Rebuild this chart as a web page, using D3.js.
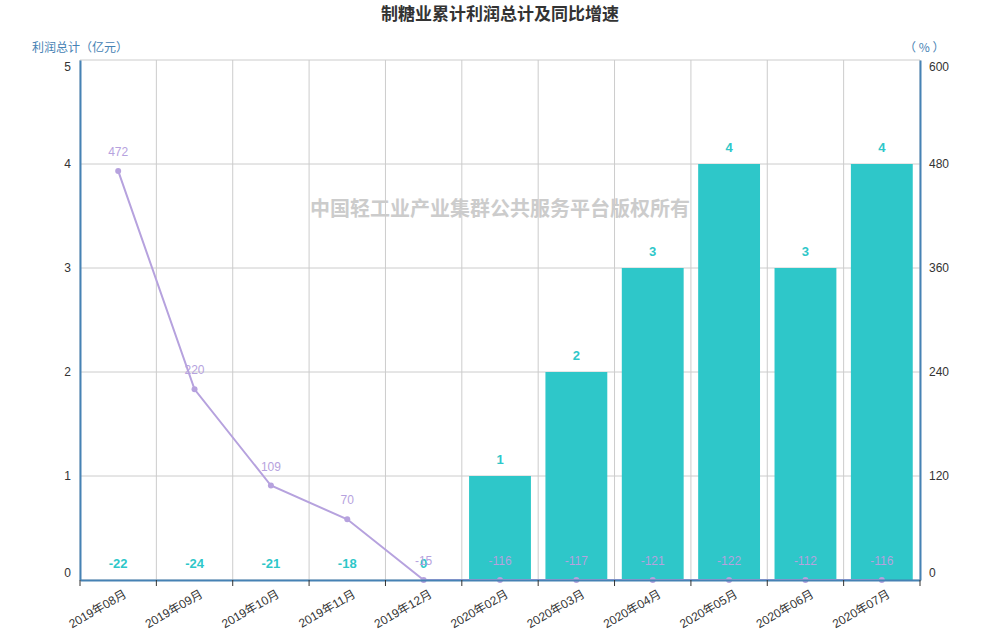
<!DOCTYPE html>
<html><head><meta charset="utf-8">
<script src="https://cdn.jsdelivr.net/npm/d3@7/dist/d3.min.js"></script>
<style>body{margin:0;background:#fff;font-family:"Noto Sans CJK SC","Microsoft YaHei",sans-serif;}</style>
</head><body><svg id="c" width="1000" height="640"></svg>
<script>
const categories = ["2019年08月","2019年09月","2019年10月","2019年11月","2019年12月","2020年02月","2020年03月","2020年04月","2020年05月","2020年06月","2020年07月"];
const profitValues = [-22,-24,-21,-18,0,1,2,3,4,3,4];
const growthValues = [472,220,109,70,-15,-116,-117,-121,-122,-112,-116];
const leftTicks = [0,1,2,3,4,5];
const rightTicks = [0,120,240,360,480,600];

const svg = d3.select("#c");
const L=80,R=920,T=60,B=580;
const teal="#2ec7c9", purple="#b6a2de", axisBlue="#4682b4";

const x = d3.scaleBand().domain(categories).range([L,R]).paddingInner(0.19).paddingOuter(0.095);
const xb = d3.scaleBand().domain(categories).range([L,R]);
const yL = d3.scaleLinear().domain([0,5]).range([B,T]);
const yR = d3.scaleLinear().domain([0,600]).range([B,T]);

svg.append("text").attr("x",500).attr("y",20).attr("text-anchor","middle")
  .attr("font-size",17).attr("font-weight","bold").attr("fill","#333").text("制糖业累计利润总计及同比增速");

svg.append("g").selectAll("line").data(leftTicks).join("line")
  .attr("x1",L).attr("x2",R).attr("y1",d=>yL(d)).attr("y2",d=>yL(d)).attr("stroke","#ccc");
const bounds = categories.map(c=>xb(c)).concat([R]);
svg.append("g").selectAll("line").data(bounds).join("line")
  .attr("x1",d=>d).attr("x2",d=>d).attr("y1",T).attr("y2",B).attr("stroke","#ccc");

svg.append("text").attr("x",500).attr("y",216).attr("text-anchor","middle")
  .attr("font-size",20).attr("font-weight","bold").attr("fill","#ccc").text("中国轻工业产业集群公共服务平台版权所有");

const clampL = v=>Math.max(0,v);
svg.append("g").selectAll("rect").data(categories).join("rect")
  .attr("x",c=>x(c)).attr("width",x.bandwidth())
  .attr("y",(c,i)=>yL(clampL(profitValues[i])))
  .attr("height",(c,i)=>B-yL(clampL(profitValues[i])))
  .attr("fill",teal);

const clampR = v=>Math.max(0,v);
const cx = i=>xb(categories[i])+xb.bandwidth()/2;
const line = d3.line().x((d,i)=>cx(i)).y(d=>yR(clampR(d)));
svg.append("path").datum(growthValues).attr("d",line).attr("fill","none").attr("stroke",purple).attr("stroke-width",2);
svg.append("g").selectAll("circle").data(growthValues).join("circle")
  .attr("cx",(d,i)=>cx(i)).attr("cy",d=>yR(clampR(d))).attr("r",3).attr("fill",purple);

svg.append("g").selectAll("text").data(profitValues).join("text")
  .attr("x",(d,i)=>cx(i)).attr("y",d=>yL(clampL(d))-12)
  .attr("text-anchor","middle").attr("font-size",13).attr("font-weight","bold").attr("fill",teal)
  .attr("font-family","Arial, Liberation Sans, sans-serif").text(d=>d);
svg.append("g").selectAll("text").data(growthValues).join("text")
  .attr("x",(d,i)=>cx(i)).attr("y",d=>yR(clampR(d))-15)
  .attr("text-anchor","middle").attr("font-size",12).attr("fill",purple)
  .attr("font-family","Arial, Liberation Sans, sans-serif").text(d=>d);

const axL = svg.append("g").attr("transform",`translate(${L},0)`).call(d3.axisLeft(yL).tickValues(leftTicks).tickFormat(d3.format("d")).tickSize(0).tickPadding(9));
const axR = svg.append("g").attr("transform",`translate(${R},0)`).call(d3.axisRight(yR).tickValues(rightTicks).tickFormat(d3.format("d")).tickSize(0).tickPadding(9));
const axB = svg.append("g").attr("transform",`translate(0,${B})`).call(d3.axisBottom(xb).tickSize(0).tickPadding(6));
[axL,axR,axB].forEach(a=>{
  a.select(".domain").attr("stroke",axisBlue).attr("stroke-width",2);
  a.selectAll("text").attr("fill","#333").attr("font-size",12).attr("font-family","Arial, Liberation Sans, sans-serif");
});
[axL,axR].forEach(a=>{
  a.selectAll(".tick text").attr("dy",(d,i,n)=> i===0 ? "-0.3em" : (i===n.length-1 ? "0.9em" : "0.32em"));
});
axB.selectAll(".tick text").attr("text-anchor","end").attr("font-family","Arial, Noto Sans CJK SC, sans-serif")
  .attr("transform",`translate(2,4) rotate(-30)`).attr("dy","0.7em");
svg.append("g").selectAll("line").data(bounds).join("line")
  .attr("x1",d=>d).attr("x2",d=>d).attr("y1",B).attr("y2",B+6).attr("stroke","#333");

svg.append("text").attr("x",32).attr("y",52).attr("font-size",12).attr("fill",axisBlue).text("利润总计（亿元）");
svg.append("text").attr("x",904).attr("y",52).attr("font-size",12).attr("fill",axisBlue).text("（ % ）");
</script></body></html>
